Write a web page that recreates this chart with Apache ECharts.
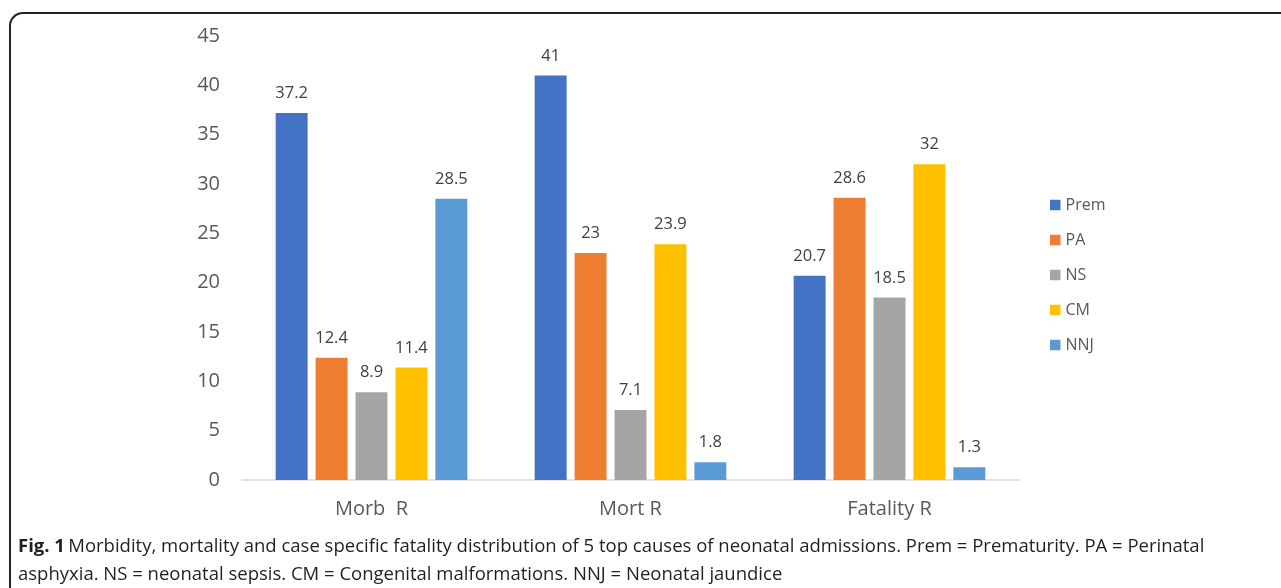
<!DOCTYPE html>
<html>
<head>
<meta charset="utf-8">
<script src="https://cdn.jsdelivr.net/npm/echarts@6/dist/echarts.min.js"></script>
<style>
html,body{margin:0;padding:0;background:#fff;}
#frame{position:absolute;left:9px;top:12px;width:1300px;height:600px;border-left:2px solid #222;border-top:2px solid #222;border-top-left-radius:14px;}
#chart{position:absolute;left:0;top:0;width:1281px;height:588px;}
</style>
</head>
<body>
<div id="frame"></div>
<div id="chart"></div>
<script>
const categories = ['Morb  R', 'Mort R', 'Fatality R'];
const seriesNames = ['Prem', 'PA', 'NS', 'CM', 'NNJ'];
const prem = [37.2, 41, 20.7];
const pa = [12.4, 23, 28.6];
const ns = [8.9, 7.1, 18.5];
const cm = [11.4, 23.9, 32];
const nnj = [28.5, 1.8, 1.3];
const yTicks = [0, 45, 5];
const captionLine1 = 'Morbidity, mortality and case specific fatality distribution of 5 top causes of neonatal admissions. Prem = Prematurity. PA = Perinatal';
const captionLine2 = 'asphyxia. NS = neonatal sepsis. CM = Congenital malformations. NNJ = Neonatal jaundice';

const colors = ['#4472C4', '#ED7D31', '#A5A5A5', '#FFC000', '#5B9BD5'];
const allData = [prem, pa, ns, cm, nnj];
const font = 'Open Sans';

const chart = echarts.init(document.getElementById('chart'), null, {renderer: 'canvas'});
chart.setOption({
  animation: false,
  color: colors,
  grid: {left: 242, right: 262, top: 36, bottom: 108},
  legend: {
    orient: 'vertical', left: 1045, top: 192, itemWidth: 10.5, itemHeight: 10.5, itemGap: 19,
    icon: 'rect',
    textStyle: {fontFamily: font, fontSize: 16, color: '#595959'},
    data: seriesNames
  },
  xAxis: {
    type: 'category', data: categories,
    axisLine: {lineStyle: {color: '#d9d9d9', width: 1.5}},
    axisTick: {show: false},
    axisLabel: {fontFamily: font, fontSize: 20, color: '#595959', margin: 19}
  },
  yAxis: {
    type: 'value', min: yTicks[0], max: yTicks[1], interval: yTicks[2],
    axisLine: {show: false}, axisTick: {show: false},
    splitLine: {show: false},
    axisLabel: {fontFamily: font, fontSize: 20, color: '#595959', margin: 22}
  },
  series: seriesNames.map((n, i) => ({
    name: n, type: 'bar', data: allData[i],
    barGap: '25%', barCategoryGap: '26%',
    label: {show: true, position: 'top', distance: 11, fontFamily: font, fontSize: 16.5, color: '#404040'}
  })),
  graphic: [
    {type: 'text', left: 18, top: 537, style: {
      text: '{b|Fig. 1} {n|' + captionLine1 + '}',
      rich: {
        b: {fontFamily: font, fontWeight: 'bold', fontSize: 18.5, fill: '#231f20'},
        n: {fontFamily: font, fontSize: 18.5, fill: '#231f20'}
      }
    }},
    {type: 'text', left: 18, top: 565, style: {
      text: captionLine2, fontFamily: font, fontSize: 18.5, fill: '#231f20'
    }}
  ]
});
</script>
</body>
</html>
